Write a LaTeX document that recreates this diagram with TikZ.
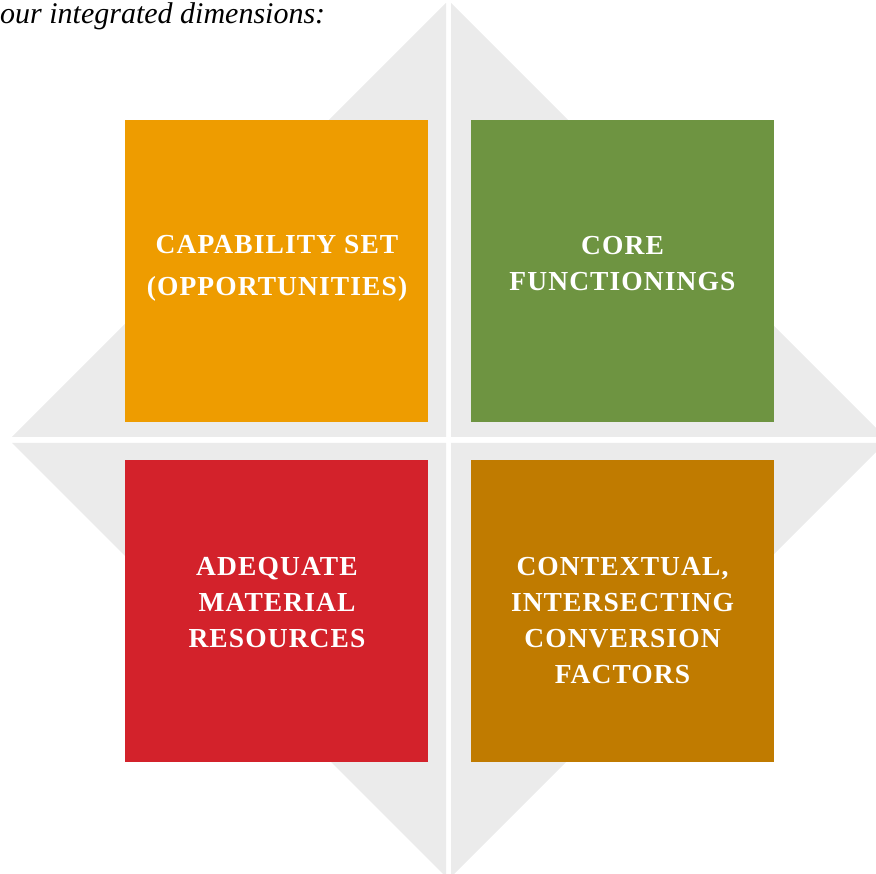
\documentclass[tikz,border=0pt]{standalone}
\usepackage{fontspec}
\setmainfont{Liberation Serif}
\newfontfamily\labelfont[LetterSpace=4]{Liberation Serif}
\definecolor{diamondgrey}{HTML}{EBEBEB}
\definecolor{capcol}{HTML}{EE9C00}
\definecolor{corecol}{HTML}{6E9441}
\definecolor{rescol}{HTML}{D3222B}
\definecolor{convcol}{HTML}{C07B00}
\tikzset{
  quadrant/.style={fill=diamondgrey, draw=none},
  dimbox/.style={draw=none, minimum width=303pt, minimum height=302pt, inner sep=0pt},
  dimtext/.style={text=white, align=center, inner sep=0pt,
    font=\labelfont\bfseries\fontsize{27.5}{36}\selectfont},
  intro/.style={anchor=base west, inner sep=0pt,
    font=\itshape\fontsize{30}{36}\selectfont}
}
\begin{document}
\begin{tikzpicture}[x=1pt,y=-1pt]
  \useasboundingbox (0,0) rectangle (876,874);
  \clip (0,0) rectangle (876,874);
  % grey diamond split into four quadrants by a white cross
  \fill[quadrant] (446,437) -- (446,3) -- (12,437) -- cycle;
  \fill[quadrant] (451,437) -- (451,3) -- (885,437) -- cycle;
  \fill[quadrant] (446,443) -- (446,877) -- (12,443) -- cycle;
  \fill[quadrant] (451,443) -- (451,877) -- (885,443) -- cycle;
  % introductory line
  \node[intro] (intro) at (0,23.5) {our integrated dimensions:};
  % the four dimension boxes
  \node[dimbox, fill=capcol]  (capbox)  at (276.5,271) {};
  \node[dimbox, fill=corecol] (corebox) at (622.5,271) {};
  \node[dimbox, fill=rescol]  (resbox)  at (276.5,611) {};
  \node[dimbox, fill=convcol] (convbox) at (622.5,611) {};
  % box labels
  \node[dimtext] (captext)  at (277,268) {CAPABILITY SET\\[6pt](OPPORTUNITIES)};
  \node[dimtext] (coretext) at (622.5,264) {CORE\\FUNCTIONINGS};
  \node[dimtext] (restext)  at (277,603) {ADEQUATE\\MATERIAL\\RESOURCES};
  \node[dimtext] (convtext) at (622.5,621) {CONTEXTUAL,\\INTERSECTING\\CONVERSION\\FACTORS};
\end{tikzpicture}
\end{document}
